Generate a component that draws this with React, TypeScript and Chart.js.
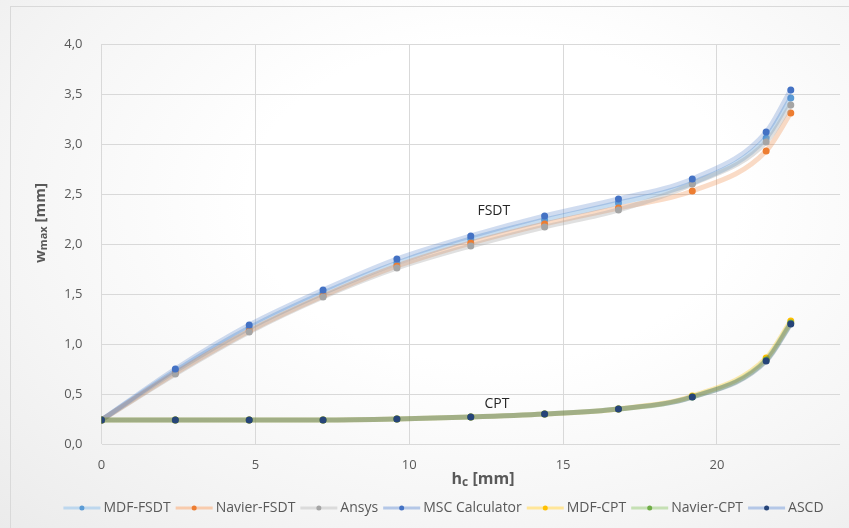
import React, { useEffect, useRef } from "react";
import { Chart, registerables } from "chart.js";

Chart.register(...registerables);

// ---- data ----
const hc = [0, 2.4, 4.8, 7.2, 9.6, 12, 14.4, 16.8, 19.2, 21.6, 22.4];
const mdfFsdt = [0.24, 0.73, 1.16, 1.51, 1.81, 2.05, 2.24, 2.41, 2.61, 3.06, 3.46];
const navierFsdt = [0.24, 0.71, 1.13, 1.48, 1.78, 2.01, 2.2, 2.36, 2.53, 2.93, 3.31];
const ansys = [0.24, 0.7, 1.12, 1.47, 1.76, 1.98, 2.17, 2.34, 2.6, 3.02, 3.39];
const mscCalculator = [0.24, 0.75, 1.19, 1.54, 1.85, 2.08, 2.28, 2.45, 2.65, 3.12, 3.54];
const mdfCpt = [0.24, 0.24, 0.24, 0.24, 0.25, 0.27, 0.3, 0.35, 0.48, 0.86, 1.23];
const navierCpt = [0.24, 0.24, 0.24, 0.24, 0.25, 0.27, 0.3, 0.35, 0.47, 0.84, 1.21];
const ascd = [0.24, 0.24, 0.24, 0.24, 0.25, 0.27, 0.3, 0.35, 0.47, 0.83, 1.2];

const seriesNames = ["MDF-FSDT", "Navier-FSDT", "Ansys", "MSC Calculator", "MDF-CPT", "Navier-CPT", "ASCD"];
const seriesValues = [mdfFsdt, navierFsdt, ansys, mscCalculator, mdfCpt, navierCpt, ascd];
const markerColors = ["#5b9bd5", "#ed7d31", "#a5a5a5", "#4472c4", "#ffc000", "#70ad47", "#264478"];
const lineColors = [
  "rgba(91,155,213,0.35)",
  "rgba(237,125,49,0.28)",
  "rgba(165,165,165,0.35)",
  "rgba(68,114,196,0.25)",
  "rgba(255,192,0,0.3)",
  "rgba(112,173,71,0.35)",
  "rgba(38,68,120,0.25)",
];
const legendLineColors = ["#bdd7ee", "#f8cbad", "#dbdbdb", "#b4c7e7", "#ffe699", "#c5e0b4", "#b4c7e7"];

const xTickValues = [0, 5, 10, 15, 20];
const xMax = 24;
const yMax = 4;
const yStep = 0.5;

const curveLabels = [
  { text: "FSDT", x: 12.75, y: 2.33 },
  { text: "CPT", x: 12.85, y: 0.4 },
];

const FONT = "'Open Sans', 'DejaVu Sans', sans-serif";
const TEXT_GRAY = "#595959";

function drawSubTitle(ctx: CanvasRenderingContext2D, parts: { t: string; sub?: boolean }[], size: number) {
  const big = `bold ${size}px ${FONT}`;
  const small = `bold ${Math.round(size * 0.75)}px ${FONT}`;
  let total = 0;
  for (const p of parts) {
    ctx.font = p.sub ? small : big;
    total += ctx.measureText(p.t).width;
  }
  let x = -total / 2;
  ctx.textBaseline = "alphabetic";
  ctx.textAlign = "left";
  for (const p of parts) {
    ctx.font = p.sub ? small : big;
    ctx.fillText(p.t, x, p.sub ? size * 0.35 + 2 : size * 0.35);
    x += ctx.measureText(p.t).width;
  }
}

const decorPlugin = {
  id: "decor",
  afterDatasetsDraw(chart: any) {
    const ctx: CanvasRenderingContext2D = chart.ctx;
    const xs = chart.scales.x;
    const ys = chart.scales.y;
    ctx.save();
    ctx.fillStyle = "#262626";
    ctx.font = `14px ${FONT}`;
    ctx.textAlign = "center";
    ctx.textBaseline = "middle";
    for (const l of curveLabels) {
      ctx.fillText(l.text, xs.getPixelForValue(l.x), ys.getPixelForValue(l.y));
    }
    ctx.restore();
  },
  afterDraw(chart: any) {
    const ctx: CanvasRenderingContext2D = chart.ctx;
    ctx.save();
    ctx.fillStyle = TEXT_GRAY;
    // y title
    ctx.save();
    ctx.translate(40, 223);
    ctx.rotate(-Math.PI / 2);
    drawSubTitle(ctx, [{ t: "w" }, { t: "max", sub: true }, { t: " [mm]" }], 15);
    ctx.restore();
    // x title
    ctx.save();
    ctx.translate(483, 478);
    drawSubTitle(ctx, [{ t: "h" }, { t: "c", sub: true }, { t: " [mm]" }], 16);
    ctx.restore();

    // legend
    const lineLen = 37;
    const gapAfterLine = 3;
    const gapAfterText = 5;
    ctx.font = `14px ${FONT}`;
    const widths = seriesNames.map((n) => ctx.measureText(n).width);
    let total = 0;
    widths.forEach((w, i) => {
      total += lineLen + gapAfterLine + w + (i < widths.length - 1 ? gapAfterText : 0);
    });
    let x = 443.5 - total / 2;
    const y = 508;
    seriesNames.forEach((n, i) => {
      ctx.strokeStyle = legendLineColors[i];
      ctx.lineWidth = 3;
      ctx.beginPath();
      ctx.moveTo(x, y);
      ctx.lineTo(x + lineLen, y);
      ctx.stroke();
      ctx.fillStyle = markerColors[i];
      ctx.beginPath();
      ctx.arc(x + lineLen / 2, y, 2.5, 0, Math.PI * 2);
      ctx.fill();
      ctx.fillStyle = TEXT_GRAY;
      ctx.textAlign = "left";
      ctx.textBaseline = "middle";
      ctx.fillText(n, x + lineLen + gapAfterLine, y);
      x += lineLen + gapAfterLine + widths[i] + gapAfterText;
    });
    ctx.restore();
  },
};

export default function App() {
  const ref = useRef<HTMLCanvasElement | null>(null);

  useEffect(() => {
    document.body.style.margin = "0";
    const canvas = ref.current;
    if (!canvas) return;
    const n = seriesNames.length;
    const datasets = seriesNames.map((name, i) => ({
      label: name,
      data: hc.map((x, j) => ({ x, y: seriesValues[i][j] })),
      order: n - i,
      borderColor: lineColors[i],
      backgroundColor: markerColors[i],
      pointBackgroundColor: markerColors[i],
      pointBorderColor: markerColors[i],
      pointBorderWidth: 0,
      pointRadius: 3.5,
      borderWidth: 5,
      cubicInterpolationMode: "monotone" as const,
      tension: 0.4,
      showLine: true,
      fill: false,
    }));

    const chart = new Chart(canvas, {
      type: "scatter",
      data: { datasets },
      options: {
        responsive: false,
        animation: false,
        devicePixelRatio: 1,
        layout: { padding: { top: 44, right: 9, bottom: 0, left: 0 } },
        plugins: {
          legend: { display: false },
          tooltip: { enabled: false },
        },
        scales: {
          x: {
            type: "linear",
            min: 0,
            max: xMax,
            afterFit: (s: any) => {
              s.height = 84;
            },
            afterBuildTicks: (s: any) => {
              s.ticks = xTickValues.map((v) => ({ value: v }));
            },
            ticks: {
              padding: 13,
              color: TEXT_GRAY,
              font: { family: FONT, size: 13 },
              callback: (v: any) => String(v),
            },
            grid: { color: "#d9d9d9", drawTicks: false, lineWidth: 1 },
            border: { display: false },
          },
          y: {
            type: "linear",
            min: 0,
            max: yMax,
            afterFit: (s: any) => {
              s.width = 101.5;
            },
            ticks: {
              stepSize: yStep,
              padding: 19,
              color: TEXT_GRAY,
              font: { family: FONT, size: 13 },
              callback: (v: any) => Number(v).toFixed(1).replace(".", ","),
            },
            grid: { color: "#d9d9d9", drawTicks: false, lineWidth: 1 },
            border: { display: false },
          },
        },
      },
      plugins: [decorPlugin],
    });
    return () => chart.destroy();
  }, []);

  return (
    <div
      style={{
        position: "fixed",
        left: 0,
        top: 0,
        width: 849,
        height: 528,
        overflow: "hidden",
        background:
          "radial-gradient(ellipse at 58% 38%, #ffffff 35%, #f5f5f5 70%, #ebebeb 100%)",
      }}
    >
      <div
        style={{
          position: "absolute",
          left: 10,
          top: 6,
          width: 860,
          height: 540,
          border: "1px solid #d9d9d9",
          boxSizing: "border-box",
        }}
      />
      <canvas ref={ref} width={849} height={528} style={{ position: "absolute", left: 0, top: 0 }} />
    </div>
  );
}
